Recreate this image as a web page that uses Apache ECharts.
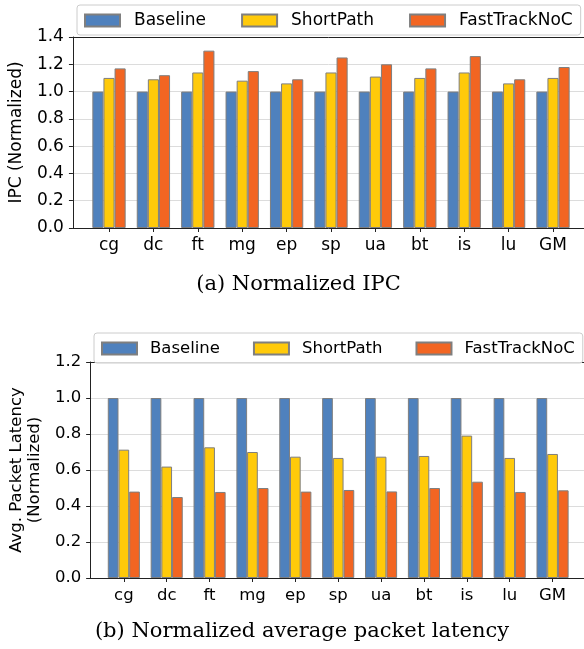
<!DOCTYPE html>
<html>
<head>
<meta charset="utf-8">
<script src="https://cdn.jsdelivr.net/npm/echarts@6/dist/echarts.min.js"></script>
<style>
html,body{margin:0;padding:0;background:#fff;}
#c{width:584px;height:649px;}
</style>
</head>
<body>
<div id="c"></div>
<script>
const categories = ['cg','dc','ft','mg','ep','sp','ua','bt','is','lu','GM'];
const seriesNames = ['Baseline','ShortPath','FastTrackNoC'];
const colors = ['#4F81BD','#FFCA0A','#F26522'];

const ipcBaseline = [1.0,1.0,1.0,1.0,1.0,1.0,1.0,1.0,1.0,1.0,1.0];
const ipcShortPath = [1.10,1.09,1.14,1.08,1.06,1.14,1.11,1.10,1.14,1.06,1.10];
const ipcFastTrack = [1.17,1.12,1.30,1.15,1.09,1.25,1.20,1.17,1.26,1.09,1.18];

const latBaseline = [1.0,1.0,1.0,1.0,1.0,1.0,1.0,1.0,1.0,1.0,1.0];
const latShortPath = [0.713,0.619,0.726,0.70,0.674,0.667,0.674,0.678,0.791,0.667,0.689];
const latFastTrack = [0.48,0.45,0.478,0.50,0.48,0.489,0.481,0.50,0.535,0.478,0.487];

const captionA = '(a) Normalized IPC';
const captionB = '(b) Normalized average packet latency';
const yNameA = 'IPC (Normalized)';
const yNameB = 'Avg. Packet Latency\n(Normalized)';

const FONT = 'DejaVu Sans';
const AX = '#222';
const EDGE = '#7f7f7f';

const chart = echarts.init(document.getElementById('c'), null, {renderer:'canvas'});

function frameY(gridIndex, max, name, gap, fs) {
  return {
    type:'value', gridIndex, min:0, max, interval:0.2,
    name, nameLocation:'middle', nameGap:gap, nameRotate:90,
    nameTextStyle:{fontFamily:FONT, fontSize:fs, color:'#000', lineHeight:18},
    axisLine:{show:true, lineStyle:{color:AX, width:1}},
    axisTick:{show:true, inside:false, length:4, lineStyle:{color:AX}},
    axisLabel:{fontFamily:FONT, fontSize:fs, color:'#000', margin:9, formatter:v=>v.toFixed(1)},
    splitLine:{show:true, lineStyle:{color:'#dcdcdc', width:1}}
  };
}
function barY(gridIndex, max) {
  return {type:'value', gridIndex, min:0, max, show:false, splitLine:{show:false}};
}
function frameX(gridIndex, pos) {
  return {
    type:'value', gridIndex, min:0, max:1, position:pos,
    axisLine:{show:true, onZero:false, lineStyle:{color:AX, width:1}},
    axisTick:{show:false}, axisLabel:{show:false}, splitLine:{show:false}
  };
}
function barX(gridIndex, fs, margin) {
  return {
    type:'category', gridIndex, data:categories,
    axisLine:{show:false},
    axisTick:{show:true, alignWithLabel:true, length:4, lineStyle:{color:AX}},
    axisLabel:{fontFamily:FONT, fontSize:fs, color:'#000', margin, interval:0},
    splitLine:{show:false}
  };
}
function barSeries(name, data, idx, xi, yi, bw) {
  return {
    type:'bar', name, data, xAxisIndex:xi, yAxisIndex:yi,
    barWidth:bw, barGap:'0%',
    itemStyle:{color:colors[idx], borderColor:EDGE, borderWidth:1},
    emphasis:{disabled:true}, animation:false
  };
}
function legend(left, top, width, fs, gap, textPad) {
  return {
    left, top, width, orient:'horizontal', data:seriesNames,
    itemWidth:35, itemHeight:12, itemGap:gap,
    padding:[7,8,6,7],
    borderColor:'#cccccc', borderWidth:1, borderRadius:3,
    backgroundColor:'rgba(255,255,255,0.85)',
    icon:'rect',
    textStyle:{fontFamily:FONT, fontSize:fs, color:'#000', padding:[0,0,0,textPad]},
    selectedMode:false
  };
}

chart.setOption({
  animation:false,
  grid:[
    {left:68.5, top:37, right:0, height:191, show:false},
    {left:86.8, top:37, width:488.4, height:191, show:false},
    {left:84.7, top:362, right:0, height:216, show:false},
    {left:102.4, top:362, width:471.6, height:216, show:false}
  ],
  xAxis:[frameX(0,'bottom'), frameX(0,'top'), barX(1,17,9), frameX(2,'bottom'), frameX(2,'top'), barX(3,16.5,9)],
  yAxis:[frameY(0,1.4,yNameA,44,17), barY(1,1.4), frameY(2,1.2,yNameB,40,16.5), barY(3,1.2)],
  legend:[legend(77,5,490,17,35,9), legend(94,333,475,16.5,33,8)],
  series:[
    barSeries(seriesNames[0], ipcBaseline, 0, 2, 1, 11.1),
    barSeries(seriesNames[1], ipcShortPath, 1, 2, 1, 11.1),
    barSeries(seriesNames[2], ipcFastTrack, 2, 2, 1, 11.1),
    barSeries(seriesNames[0], latBaseline, 0, 5, 3, 10.7),
    barSeries(seriesNames[1], latShortPath, 1, 5, 3, 10.7),
    barSeries(seriesNames[2], latFastTrack, 2, 5, 3, 10.7)
  ],
  graphic:[
    {type:'text', x:298.5, y:285, style:{text:captionA, font:'21px "DejaVu Serif"', fill:'#000', align:'center', verticalAlign:'middle'}},
    {type:'text', x:302, y:632, style:{text:captionB, font:'21px "DejaVu Serif"', fill:'#000', align:'center', verticalAlign:'middle'}}
  ]
});
</script>
</body>
</html>
